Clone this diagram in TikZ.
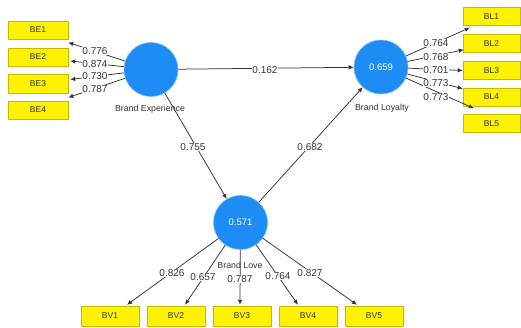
\documentclass[tikz,border=0pt]{standalone}
\usepackage{fontspec}
\setmainfont{Liberation Sans}
\usetikzlibrary{arrows.meta}
\definecolor{lvblue}{HTML}{1E8CF5}
\definecolor{lvyel}{HTML}{FFF200}
\definecolor{lvyelb}{HTML}{C9B800}
\definecolor{lvline}{HTML}{333333}
\definecolor{lvtext}{HTML}{333333}
\tikzset{
  ind/.style={rectangle, fill=lvyel, draw=lvyelb, line width=0.5pt, inner sep=0pt, text=lvtext, font=\fontsize{8.5}{9}\selectfont},
  beind/.style={ind, minimum width=60pt, minimum height=18.5pt},
  blind/.style={ind, minimum width=57pt, minimum height=18pt},
  bvind/.style={ind, minimum width=58pt, minimum height=20pt},
  lat/.style={circle, fill=lvblue, draw=lvblue!60, line width=0.6pt, minimum size=54pt, inner sep=0pt, text=white, font=\fontsize{9.5}{10}\selectfont},
  latname/.style={text=lvtext, font=\fontsize{8.8}{10}\selectfont, inner sep=0pt},
  wt/.style={fill=white, text=lvtext, inner sep=0.8pt, font=\fontsize{10}{11}\selectfont},
  pth/.style={draw=lvline, line width=0.75pt, -{Latex[length=5pt,width=4.5pt]}}
}
\begin{document}
\begin{tikzpicture}[x=1pt,y=-1pt]
\useasboundingbox (0,0) rectangle (521,327);
% latent variables
\node[lat] (be) at (151,69.5) {};
\node[lat] (bl) at (381,67) {0.659};
\node[lat] (bv) at (240.5,222.5) {0.571};
\node[latname] (benm) at (150,109) {Brand Experience};
\node[latname] (blnm) at (382,108.5) {Brand Loyalty};
\node[latname] (bvnm) at (240,265) {Brand Love};
% indicators
\node[beind] (BE1) at (38,30) {BE1};
\node[beind] (BE2) at (38,57) {BE2};
\node[beind] (BE3) at (38,83.5) {BE3};
\node[beind] (BE4) at (38,110) {BE4};
\node[blind] (BL1) at (491.5,16.5) {BL1};
\node[blind] (BL2) at (491.5,43.5) {BL2};
\node[blind] (BL3) at (491.5,70.5) {BL3};
\node[blind] (BL4) at (491.5,97) {BL4};
\node[blind] (BL5) at (491.5,123.5) {BL5};
\node[bvind] (BV1) at (110,316) {BV1};
\node[bvind] (BV2) at (176,316) {BV2};
\node[bvind] (BV3) at (242,316) {BV3};
\node[bvind] (BV4) at (308,316) {BV4};
\node[bvind] (BV5) at (374,316) {BV5};
% outer loadings
\draw[pth] (be) -- ([yshift=-3pt]BE1.south east);
\draw[pth] (be) -- ([xshift=2pt,yshift=-4pt]BE2.east);
\draw[pth] (be) -- ([xshift=2pt,yshift=4pt]BE3.east);
\draw[pth] (be) -- ([yshift=3pt]BE4.north east);
\draw[pth] (bl) -- ([xshift=7pt,yshift=-2pt]BL1.south west);
\draw[pth] (bl) -- ([xshift=1pt,yshift=3pt]BL2.south west);
\draw[pth] (bl) -- (BL3.west);
\draw[pth] (bl) -- ([yshift=-1pt]BL4.north west);
\draw[pth] (bl) -- ([xshift=11pt,yshift=6pt]BL5.north west);
\draw[pth] (bv) -- ([xshift=17pt,yshift=1pt]BV1.north);
\draw[pth] (bv) -- ([xshift=9pt,yshift=1pt]BV2.north);
\draw[pth] (bv) -- ([xshift=-2pt,yshift=1pt]BV3.north);
\draw[pth] (bv) -- ([xshift=-10pt,yshift=1pt]BV4.north);
\draw[pth] (bv) -- ([xshift=-17pt,yshift=1pt]BV5.north);
% inner paths
\draw[pth] (be) -- (bl);
\draw[pth] (be) -- (bv);
\draw[pth] (bv) -- (bl);
% weights
\node[wt] (w1) at (95,51) {0.776};
\node[wt] (w2) at (95,64) {0.874};
\node[wt] (w3) at (95,76.5) {0.730};
\node[wt] (w4) at (95,89) {0.787};
\node[wt] (w5) at (436,43) {0.764};
\node[wt] (w6) at (436,57) {0.768};
\node[wt] (w7) at (436,70) {0.701};
\node[wt] (w8) at (436,83) {0.773};
\node[wt] (w9) at (436,97) {0.773};
\node[wt] (w10) at (172,273) {0.826};
\node[wt] (w11) at (203,277) {0.657};
\node[wt] (w12) at (240,279) {0.787};
\node[wt] (w13) at (278,276) {0.764};
\node[wt] (w14) at (310,273) {0.827};
\node[wt] (p1) at (265,70) {0.162};
\node[wt] (p2) at (193,147) {0.755};
\node[wt] (p3) at (310,147) {0.682};
\end{tikzpicture}
\end{document}
